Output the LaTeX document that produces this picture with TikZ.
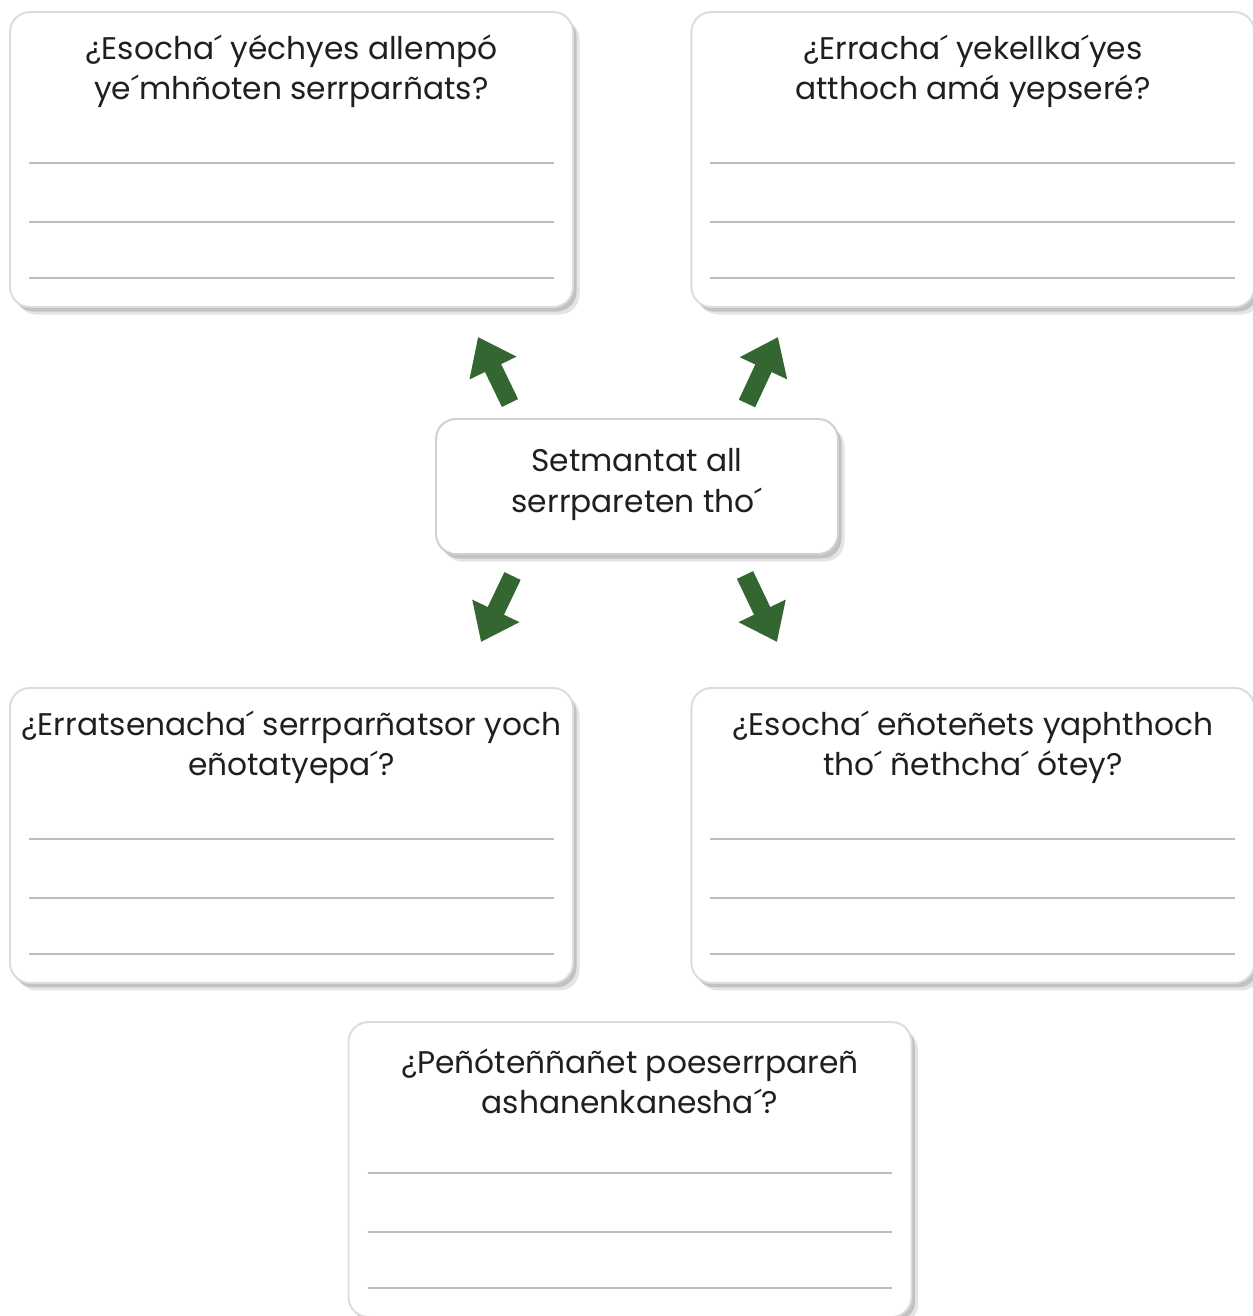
\documentclass[tikz,border=0pt]{standalone}
\usepackage{fontspec}
\setmainfont{Poppins}
\usetikzlibrary{positioning,shadows,arrows.meta}
\definecolor{arrowgreen}{RGB}{52,102,50}
\definecolor{cardline}{RGB}{220,220,220}
\definecolor{hubline}{RGB}{206,211,199}
\definecolor{rulegray}{RGB}{190,190,190}
\tikzstyle{card} = [draw=cardline, line width=1.1pt, fill=white, rounded corners=0.4cm, minimum width=11.26cm, minimum height=5.9cm,
    drop shadow={shadow xshift=0.13cm, shadow yshift=-0.15cm, fill=black!30, opacity=0.35},
    drop shadow={shadow xshift=0.07cm, shadow yshift=-0.09cm, fill=black!40, opacity=0.45}]
\tikzstyle{hub} = [card, draw=hubline, minimum width=8.04cm, minimum height=2.7cm]
\tikzstyle{question} = [align=center, font=\fontsize{17.8}{22.8}\selectfont, text=black!88]
\tikzstyle{writeline} = [draw=rulegray, line width=0.04cm]
\tikzstyle{bigarrow} = [draw=arrowgreen, line width=0.36cm, -{Triangle[length=0.69cm,width=1.0cm]}]

\begin{document}
\begin{tikzpicture}
    \useasboundingbox (0,0) rectangle (25.06,-26.32);
    % the five question cards
    \node [card] (tl) at (5.83,-3.19) {};
    \node [card, right=2.33cm of tl] (tr) {};
    \node [card, below=7.58cm of tl] (bl) {};
    \node [card, right=2.33cm of bl] (br) {};
    \node [card] (bt) at (12.6,-23.39) {};
    \node [hub] (mid) at (12.74,-9.73) {};
    % texts
    \node [question] (tlq) at ([yshift=-1.2cm]tl.north) {¿Esocha´ yéchyes allempó\\ye´mhñoten serrparñats?};
    \node [question] (trq) at ([yshift=-1.2cm]tr.north) {¿Erracha´ yekellka´yes\\atthoch amá yepseré?};
    \node [question] (blq) at ([yshift=-1.2cm]bl.north) {¿Erratsenacha´ serrparñatsor yoch\\eñotatyepa´?};
    \node [question] (brq) at ([yshift=-1.2cm]br.north) {¿Esocha´ eñoteñets yaphthoch\\tho´ ñethcha´ ótey?};
    \node [question] (btq) at ([yshift=-1.2cm]bt.north) {¿Peñóteññañet poeserrpareñ\\ashanenkanesha´?};
    \node [question] (midq) at ([yshift=0.04cm]mid) {Setmantat all\\serrpareten tho´};
    % lines to write on
    \foreach \c in {tl,tr,bl,br,bt}
      \foreach \h in {0.6,1.72,2.9}
        \draw [writeline] ([xshift=0.4cm,yshift=\h cm]\c.south west) -- ([xshift=-0.4cm,yshift=\h cm]\c.south east);
    % arrows out of the centre
    \coordinate (upl) at (10.2,-8.06);
    \coordinate (upr) at (14.94,-8.07);
    \coordinate (dnl) at (10.25,-11.52);
    \coordinate (dnr) at (14.9,-11.5);
    \coordinate (tipul) at (9.56,-6.74);
    \coordinate (tipur) at (15.56,-6.74);
    \coordinate (tipdl) at (9.62,-12.84);
    \coordinate (tipdr) at (15.54,-12.84);
    \draw [bigarrow] (upl) -- (tipul);
    \draw [bigarrow] (upr) -- (tipur);
    \draw [bigarrow] (dnl) -- (tipdl);
    \draw [bigarrow] (dnr) -- (tipdr);
\end{tikzpicture}
\end{document}
